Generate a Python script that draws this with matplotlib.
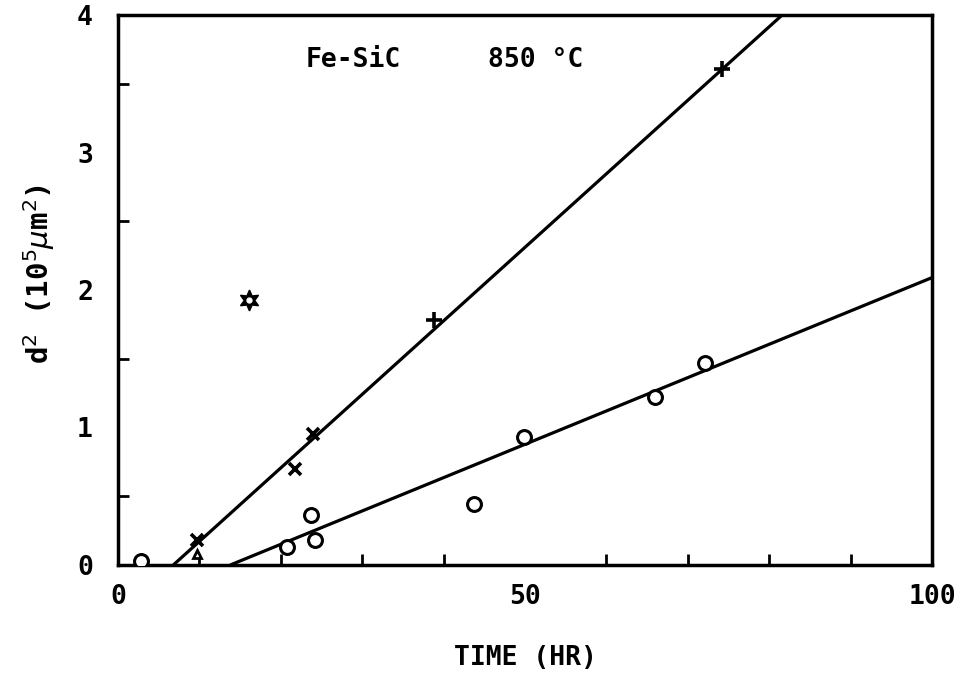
import matplotlib
matplotlib.use("Agg")
import matplotlib.pyplot as plt

# data
circle_x = [2.8, 20.8, 23.7, 24.2, 43.7, 49.9, 66.0, 72.1]
circle_y = [0.03, 0.13, 0.36, 0.18, 0.44, 0.93, 1.22, 1.47]
cross_x = [9.7, 21.7, 24.0]
cross_y = [0.18, 0.70, 0.95]
plus_x = [38.8, 74.2]
plus_y = [1.78, 3.61]
tri_x = [9.7]
tri_y = [0.08]
star_x = [16.1]
star_y = [1.93]
steep_line_x = [6.8, 81.6]
steep_line_y = [0.0, 4.0]
shallow_line_x = [13.8, 100.0]
shallow_line_y = [0.0, 2.09]
xticks_major = [0, 50, 100]
xticks_minor = [10, 20, 30, 40, 60, 70, 80, 90]
yticks_major = [0, 1, 2, 3, 4]
yticks_minor = [0.5, 1.5, 2.5, 3.5]

font = {"family": ["DejaVu Sans Mono", "DejaVu Sans"], "weight": "bold"}

fig = plt.figure(figsize=(9.7, 6.73), dpi=100)
ax = fig.add_axes([0.1216, 0.1605, 0.8392, 0.8172])
ax.set_xlim(0, 100)
ax.set_ylim(0, 4)

ax.plot(steep_line_x, steep_line_y, color="black", lw=2.3, solid_capstyle="butt")
ax.plot(shallow_line_x, shallow_line_y, color="black", lw=2.3, solid_capstyle="butt")

ax.plot(circle_x, circle_y, linestyle="none", marker="o", ms=10, mfc="white",
        mec="black", mew=2.2, zorder=3)
ax.plot(cross_x, cross_y, linestyle="none", marker="x", ms=9, mec="black", mew=2.6, zorder=3)
ax.plot(plus_x, plus_y, linestyle="none", marker="+", ms=12, mec="black", mew=2.6, zorder=3)
ax.plot(tri_x, tri_y, linestyle="none", marker="^", ms=6, mfc="white", mec="black", mew=2, zorder=3)
ax.plot(star_x, star_y, linestyle="none", marker=(6, 1, 0), ms=15, mfc="black", mec="black", zorder=3)
ax.plot(star_x, star_y, linestyle="none", marker="o", ms=3.5, mfc="white", mec="white", zorder=4)

for s in ax.spines.values():
    s.set_linewidth(2.5)

ax.set_xticks(xticks_major)
ax.set_xticks(xticks_minor, minor=True)
ax.set_yticks(yticks_major)
ax.set_yticks(yticks_minor, minor=True)
ax.tick_params(axis="both", which="both", direction="in", width=2, top=False, right=False)
ax.tick_params(axis="both", which="major", length=0)
ax.tick_params(axis="both", which="minor", length=8)
ax.tick_params(axis="x", which="major", pad=14)
ax.tick_params(axis="y", which="major", pad=18)
ax.set_xticklabels([str(v) for v in xticks_major], fontsize=19, **font)
ax.set_yticklabels([str(v) for v in yticks_major], fontsize=19, **font)

ax.text(23.0, 3.67, "Fe-SiC", fontsize=19, va="center", ha="left", **font)
ax.text(45.5, 3.67, "850 °C", fontsize=19, va="center", ha="left", **font)

ax.set_xlabel("TIME (HR)", fontsize=19, **font)
ax.xaxis.set_label_coords(0.5, -0.145)
ax.set_ylabel(r"d$^{2}$ (10$^{5}$$\mu$m$^{2}$)", fontsize=21, **font)
ax.yaxis.set_label_coords(-0.075, 0.53)

fig.savefig("out.png", dpi=100)
